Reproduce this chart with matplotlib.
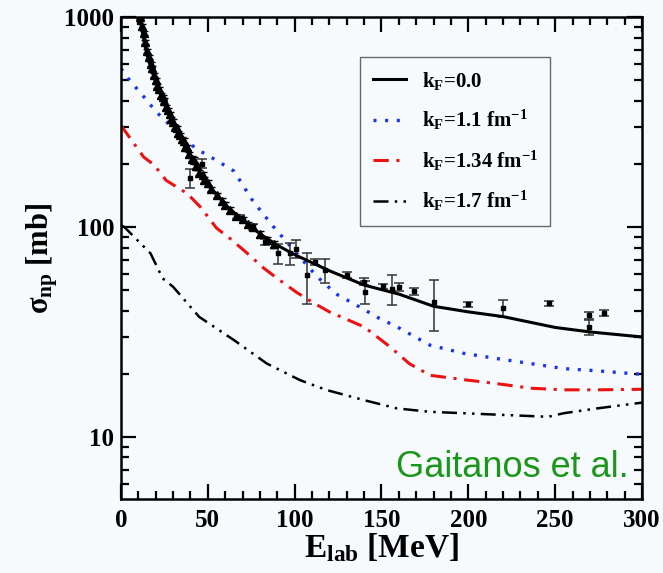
import matplotlib.pyplot as plt
from matplotlib.ticker import FixedLocator, NullFormatter, LogLocator

plt.rcParams['font.family'] = 'Liberation Serif'
plt.rcParams['font.weight'] = 'bold'
plt.rcParams['axes.labelweight'] = 'bold'
plt.rcParams['mathtext.fontset'] = 'custom'
plt.rcParams['mathtext.rm'] = 'Liberation Serif:bold'
plt.rcParams['mathtext.it'] = 'Liberation Serif:bold'
plt.rcParams['mathtext.bf'] = 'Liberation Serif:bold'

# theory curves, sigma_np (mb) vs E_lab (MeV)
e_k00 = [8, 10, 12, 15, 20, 25, 30, 35, 40, 50, 60, 70, 80, 90, 100, 120, 140, 160, 180, 200, 220, 250, 270, 300]
s_k00 = [1300, 1080, 870, 660, 490, 390, 310, 258, 215, 160, 128, 108, 93, 82, 74, 62, 53, 48, 42, 39.5, 37.5, 33.3, 31.7, 30]

e_k11 = [0, 5, 14, 20, 25, 36, 45, 55, 65, 76, 88, 103, 113, 124, 139, 147, 159, 178, 197, 216, 236, 255, 274, 300]
s_k11 = [570, 500, 410, 356, 325, 262, 232, 208, 185, 133, 100, 72, 58, 48, 41, 37.4, 33.5, 27.4, 25.1, 23.7, 22.4, 21.2, 20.7, 19.9]

e_k134 = [0, 13, 19, 26, 38, 46, 55, 63, 72, 82, 90, 101, 110, 120, 140, 155, 166, 178, 197, 216, 236, 255, 274, 300]
s_k134 = [305, 216, 198, 167, 145, 124, 99, 88, 76, 64, 57, 49, 44, 39.5, 33.5, 26.9, 22.4, 19.7, 18.8, 18.0, 17.1, 16.8, 16.8, 16.9]

e_k17 = [0, 2, 17, 24, 30, 45, 65, 84, 103, 118, 140, 159, 178, 197, 216, 236, 246, 255, 274, 300]
s_k17 = [102, 100, 75, 57, 52, 37.4, 29, 22.4, 18.7, 16.8, 15.0, 13.7, 13.2, 13.0, 12.8, 12.6, 12.5, 13.0, 13.7, 14.6]

# dense low-energy measurements
dense_e = [8, 9, 10, 11, 12, 13, 14, 15, 16, 17, 18, 19, 20, 21, 22, 23, 24, 25, 26, 27, 28, 29, 30, 31,
           32, 33, 34, 35, 36, 37, 38, 39, 41, 42, 43, 44, 45, 47, 48, 50, 52, 55, 58, 60, 63, 66, 70, 73, 76, 80, 84, 88]
dense_s = [1320, 1200, 1110, 1000, 905, 840, 760, 690, 645, 600, 570, 530, 500, 470, 455, 425, 418, 400, 372, 360, 345, 328, 318, 300,
           296, 280, 275, 262, 258, 240, 240, 222, 212, 210, 196, 195, 182, 178, 168, 162, 152, 142, 133, 128, 121, 113, 109, 103, 100, 93, 87, 83]
dense_err = [30, 28, 26, 24, 22, 20, 18, 17, 16, 15, 14, 13, 12, 12, 11, 11, 10, 10, 9, 9, 9, 8, 8, 8,
             8, 7, 7, 7, 7, 6, 6, 6, 6, 6, 5, 5, 5, 5, 5, 5, 4, 4, 4, 4, 4, 3, 3, 3, 3, 3, 3, 3]

# sparse measurements with larger uncertainties
pts_e = [39.7, 46.4, 68.5, 76.2, 82.9, 90.6, 97.3, 101, 107.3, 111.7, 117.4, 130, 140, 140.5,
         150.6, 155.8, 160.2, 168.9, 180.2, 200, 220.1, 246.6, 269.6, 269.6, 278]
pts_s = [171, 201, 111, 100, 85, 75, 75, 79, 59, 68.4, 62.4, 59, 55, 49.2,
         52.4, 51, 52, 49.5, 44, 43, 41.3, 43.4, 38.1, 33.3, 39.1]
pts_err = [18, 10, 3, 3, 3, 8, 9, 7.5, 16, 2.5, 8, 2, 2, 6.3,
           1.5, 8.3, 2.5, 2, 12, 1.2, 3.8, 1.3, 1.5, 2.7, 1.2]

bg = '#f6fafd'
fig = plt.figure(figsize=(6.63, 5.73), dpi=100, facecolor=bg)
ax = fig.add_axes([0.1825, 0.129, 0.7858, 0.841], facecolor=bg)

ax.errorbar(dense_e, dense_s, yerr=dense_err, fmt='^', ms=5.5, color='black', ecolor='black',
            elinewidth=1.2, capsize=3, zorder=3)
ax.errorbar(pts_e, pts_s, yerr=pts_err, fmt='s', ms=3.5, color='black', ecolor='#333333',
            elinewidth=1.1, capsize=3.5, capthick=1.1, zorder=3)

ax.plot(e_k00, s_k00, color='black', lw=2.2, label=r'k$_{\rm F}$=0.0', zorder=4)
ax.plot(e_k11, s_k11, color='#1a33f0', lw=2.4, ls=(0, (0.9, 2.6)), label=r'k$_{\rm F}$=1.1 fm$^{{-}1}$')
ax.plot(e_k134, s_k134, color='#ee1111', lw=2.2, ls=(0, (5, 2.5, 1, 2.5)), label=r'k$_{\rm F}$=1.34 fm$^{{-}1}$')
ax.plot(e_k17, s_k17, color='black', lw=1.8, ls=(0, (6, 2.5, 1, 2.5, 1, 2.5)), label=r'k$_{\rm F}$=1.7 fm$^{{-}1}$')

ax.set_yscale('log')
ax.set_xlim(0, 300)
ax.set_ylim(5.07, 1000)

ax.xaxis.set_major_locator(FixedLocator([0, 50, 100, 150, 200, 250, 300]))
ax.xaxis.set_minor_locator(FixedLocator(list(range(0, 301, 10))))
ax.yaxis.set_major_locator(FixedLocator([10, 100, 1000]))
ax.yaxis.set_minor_locator(LogLocator(base=10, subs=range(2, 10)))
ax.yaxis.set_minor_formatter(NullFormatter())
ax.set_yticklabels(['10', '100', '1000'])

ax.tick_params(which='both', direction='in', top=True, right=True, width=1.6, labelsize=18)
ax.tick_params(which='major', length=11)
ax.tick_params(which='minor', length=5.5)
ax.tick_params(axis='x', pad=7)
ax.tick_params(axis='y', pad=5)
for sp in ax.spines.values():
    sp.set_linewidth(1.8)

ax.set_xlabel(r'E$_{\rm lab}$ [MeV]', fontsize=24, labelpad=0)
ax.set_ylabel(r'$\sigma_{\rm np}$ [mb]', fontsize=22, labelpad=3)

leg = ax.legend(loc='upper left', bbox_to_anchor=(0.459, 0.917), borderaxespad=0,
                fontsize=15, frameon=True, fancybox=False, labelspacing=0.78,
                borderpad=0.6, handlelength=1.6, handletextpad=0.75)
leg.get_frame().set_edgecolor('#444444')
leg.get_frame().set_linewidth(1.0)
leg.get_frame().set_facecolor(bg)

ax.text(0.975, 0.066, 'Gaitanos et al.', transform=ax.transAxes, ha='right', va='center',
        fontsize=26, color='#1a961a', family='Liberation Sans', fontweight='normal')

fig.savefig('out.png', dpi=100, facecolor=bg)
